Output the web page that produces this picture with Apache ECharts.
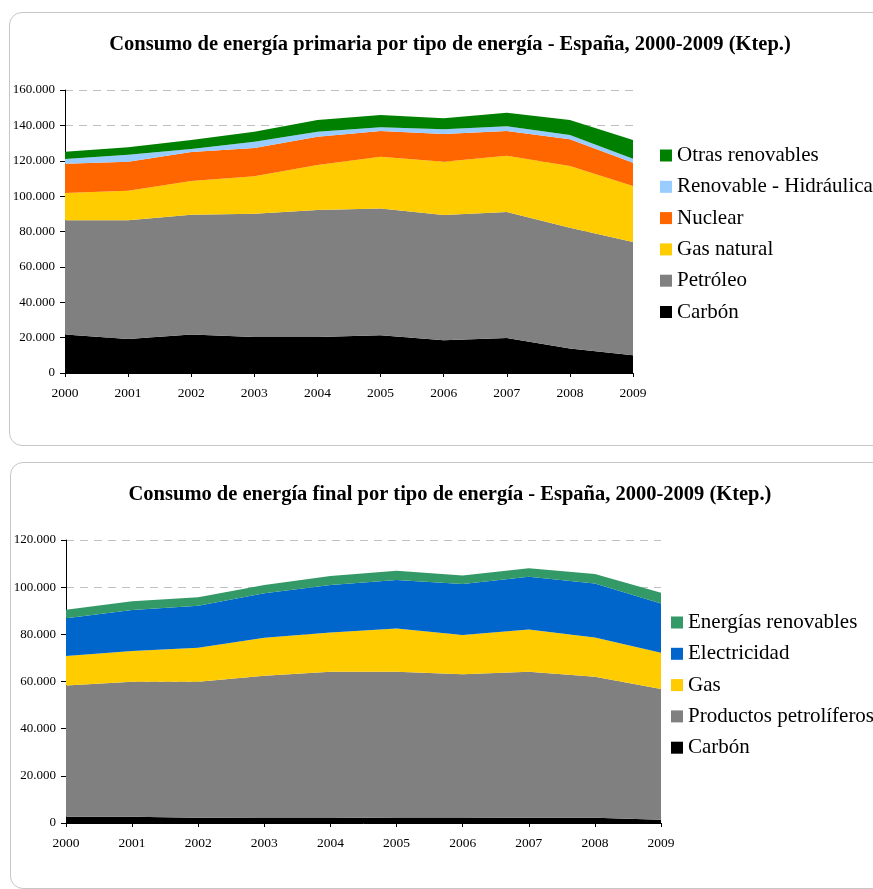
<!DOCTYPE html>
<html>
<head>
<meta charset="utf-8">
<script src="https://cdn.jsdelivr.net/npm/echarts@6/dist/echarts.min.js"></script>
<style>
html,body{margin:0;padding:0;width:873px;height:889px;overflow:hidden;background:#fff;}
.panel{position:absolute;border:1px solid #c6c6c6;border-radius:13px;background:#fff;}
.chart{position:absolute;left:0;width:873px;}
</style>
</head>
<body>
<div class="panel" style="left:9px;top:12px;width:900px;height:432px;"></div>
<div class="panel" style="left:10px;top:462px;width:900px;height:425px;"></div>
<div id="c1" class="chart" style="top:0;height:450px;"></div>
<div id="c2" class="chart" style="top:450px;height:439px;"></div>
<script>
const years = ['2000','2001','2002','2003','2004','2005','2006','2007','2008','2009'];

// Primary energy (ktep)
const pCarbon   = [21700, 19200, 21700, 20400, 20400, 21300, 18500, 19800, 13800, 10000];
const pPetroleo = [64700, 67100, 67700, 69600, 71700, 71700, 70800, 71200, 68300, 64100];
const pGas      = [15300, 16700, 19100, 21300, 25500, 29300, 30100, 31800, 34900, 31600];
const pNuclear  = [16600, 16400, 16400, 15900, 16000, 14500, 15700, 14000, 15100, 13200];
const pHidro    = [2700, 4000, 1700, 3500, 2800, 2100, 2700, 2700, 2400, 2200];
const pOtras    = [4100, 4200, 5100, 5700, 6600, 7000, 6200, 7700, 8500, 10600];

// Final energy (ktep)
const fCarbon    = [2700, 2600, 2200, 2100, 2100, 2300, 2300, 2200, 2200, 1400];
const fProductos = [55600, 57300, 57700, 60300, 62000, 61800, 60800, 61900, 59800, 55400];
const fGas       = [12500, 13000, 14400, 16100, 16700, 18400, 16600, 18000, 16700, 15400];
const fElec      = [16000, 17400, 17800, 18900, 20100, 20500, 21600, 22300, 22900, 20900];
const fRenov     = [3600, 3700, 3600, 3500, 3800, 4000, 3600, 3600, 4000, 4500];

const FONT = 'Liberation Serif';
function fmt(v){ return String(v).replace(/\B(?=(\d{3})+(?!\d))/g, '.'); }

function areaSeries(name, data, color, stack){
  return {
    name: name, type: 'line', stack: stack, data: data,
    symbol: 'none', smooth: false,
    lineStyle: { width: 0, color: color },
    areaStyle: { color: color, opacity: 1 },
    itemStyle: { color: color },
    emphasis: { disabled: true },
    animation: false
  };
}

function baseOption(title, gridCfg, yMax, legendCfg, series){
  return {
    animation: false,
    textStyle: { fontFamily: FONT },
    title: {
      text: title, left: 445, top: 29, textAlign: 'center',
      textStyle: { fontFamily: FONT, fontWeight: 'bold', fontSize: 20.5, color: '#000' }
    },
    grid: gridCfg,
    legend: Object.assign({
      orient: 'vertical', itemWidth: 12, itemHeight: 12, itemGap: 10.3,
      icon: 'rect',
      textStyle: { fontFamily: FONT, fontSize: 21, color: '#000', lineHeight: 20, padding: [0,0,0,0] }
    }, legendCfg),
    xAxis: {
      type: 'category', data: years, boundaryGap: false,
      axisLine: { lineStyle: { color: '#000', width: 1 } },
      axisTick: { show: true, length: 4, alignWithLabel: true, lineStyle: { color: '#000' } },
      axisLabel: { fontFamily: FONT, fontSize: 13.5, color: '#000', margin: 13 },
      splitLine: { show: false }
    },
    yAxis: {
      type: 'value', min: 0, max: yMax, interval: 20000,
      axisLine: { show: true, lineStyle: { color: '#000', width: 1 } },
      axisTick: { show: true, length: 5, lineStyle: { color: '#000' } },
      axisLabel: { fontFamily: FONT, fontSize: 13, color: '#000', margin: 10, formatter: fmt },
      splitLine: { show: true, lineStyle: { color: '#c0c0c0', type: [8, 6], width: 1 } }
    },
    series: series
  };
}

const c1 = echarts.init(document.getElementById('c1'), null, { renderer: 'canvas' });
c1.setOption(baseOption(
  'Consumo de energía primaria por tipo de energía - España, 2000-2009 (Ktep.)',
  { left: 65, right: 240, top: 90, bottom: 77 },
  160000,
  { left: 655, top: 140, data: ['Otras renovables','Renovable - Hidráulica','Nuclear','Gas natural','Petróleo','Carbón'] },
  [
    areaSeries('Carbón', pCarbon, '#000000', 'p'),
    areaSeries('Petróleo', pPetroleo, '#808080', 'p'),
    areaSeries('Gas natural', pGas, '#FFCC00', 'p'),
    areaSeries('Nuclear', pNuclear, '#FF6600', 'p'),
    areaSeries('Renovable - Hidráulica', pHidro, '#99CCFF', 'p'),
    areaSeries('Otras renovables', pOtras, '#008000', 'p')
  ]
));

const c2 = echarts.init(document.getElementById('c2'), null, { renderer: 'canvas' });
c2.setOption(baseOption(
  'Consumo de energía final por tipo de energía - España, 2000-2009 (Ktep.)',
  { left: 66, right: 212, top: 90, bottom: 66 },
  120000,
  { left: 666, top: 157, data: ['Energías renovables','Electricidad','Gas','Productos petrolíferos','Carbón'] },
  [
    areaSeries('Carbón', fCarbon, '#000000', 'f'),
    areaSeries('Productos petrolíferos', fProductos, '#808080', 'f'),
    areaSeries('Gas', fGas, '#FFCC00', 'f'),
    areaSeries('Electricidad', fElec, '#0066CC', 'f'),
    areaSeries('Energías renovables', fRenov, '#339966', 'f')
  ]
));
</script>
</body>
</html>
